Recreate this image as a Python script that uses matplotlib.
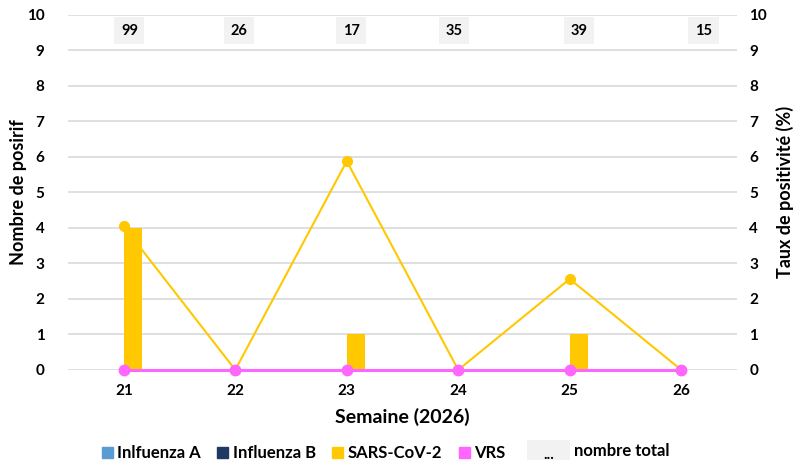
import numpy as np
import matplotlib.pyplot as plt
from matplotlib.patches import Patch, Rectangle
from matplotlib.text import Text
from matplotlib.legend_handler import HandlerPatch

plt.rcParams['font.family'] = ['Lato', 'DejaVu Sans']
plt.rcParams['font.weight'] = 'bold'

semaines = [21, 22, 23, 24, 25, 26]
flu_a = [0, 0, 0, 0, 0, 0]
flu_b = [0, 0, 0, 0, 0, 0]
sars = [4, 0, 1, 0, 1, 0]
vrs = [0, 0, 0, 0, 0, 0]
total = [99, 26, 17, 35, 39, 15]
taux_sars = [4.04, 0, 5.88, 0, 2.56, 0]
taux_vrs = [0, 0, 0, 0, 0, 0]

c_a = '#5B9BD5'
c_b = '#1F3864'
c_sars = '#FFC800'
c_vrs = '#FF66FF'
c_tot = '#F2F2F2'

# small label nudges, as in the original
lab_dx = [0.05, 0.03, 0.04, -0.04, 0.08, 0.2]


class BoxDots(HandlerPatch):
    def create_artists(self, legend, orig_handle, xdescent, ydescent,
                       width, height, fontsize, trans):
        r = Rectangle((-xdescent, -ydescent), width, height,
                      fc=c_tot, ec='none', transform=trans)
        t = Text(-xdescent + width / 2, -ydescent + 1, '...', ha='center',
                 va='baseline', fontsize=fontsize * 0.9, fontweight='bold',
                 transform=trans)
        return [r, t]


fig = plt.figure(figsize=(8.01, 4.67), dpi=100)
ax = fig.add_axes([0.085, 0.208, 0.835, 0.760])
ax2 = ax.twinx()

x = np.array(semaines)
w = 0.16
ax.bar(x - 1.5 * w, flu_a, w, color=c_a, zorder=2)
ax.bar(x - 0.5 * w, flu_b, w, color=c_b, zorder=2)
ax.bar(x + 0.5 * w, sars, w, color=c_sars, zorder=2)
ax.bar(x + 1.5 * w, vrs, w, color=c_vrs, zorder=2)

ax2.plot(x, taux_sars, color=c_sars, lw=1.5, marker='o', ms=7,
         zorder=3, clip_on=False)
ax2.plot(x, taux_vrs, color=c_vrs, lw=2.2, marker='o', ms=7.5,
         zorder=4, clip_on=False)

for xi, t, dx in zip(x, total, lab_dx):
    ax.text(xi + dx, 9.55, str(t), ha='center', va='center', fontsize=10.5,
            fontweight='bold',
            bbox=dict(boxstyle='square,pad=0.45', fc=c_tot, ec='none'))

for a in (ax, ax2):
    a.set_ylim(0, 10)
    a.set_yticks(range(0, 11))
    for s in a.spines.values():
        s.set_visible(False)
    a.tick_params(length=0, labelsize=11)
ax.set_xlim(20.5, 26.5)
ax.set_xticks(semaines)
ax.tick_params(axis='x', pad=10)
ax.tick_params(axis='y', pad=17)
ax2.tick_params(axis='y', pad=9)
ax.yaxis.grid(True, color='#D9D9D9', lw=1.2)
ax.set_axisbelow(True)

ax.set_xlabel('Semaine (2026)', fontsize=14, fontweight='bold', labelpad=7)
ax.set_ylabel('Nombre de posirif', fontsize=13, fontweight='bold', labelpad=0)
ax2.set_ylabel('Taux de positivité (%)', fontsize=13, fontweight='bold',
               labelpad=6)

fs = 12
handles = [Patch(color=c_a), Patch(color=c_b), Patch(color=c_sars),
           Patch(color=c_vrs)]
labels = ['Inlfuenza A', 'Influenza B', 'SARS-CoV-2', 'VRS']
fig.legend(handles, labels, loc='center left',
           bbox_to_anchor=(102 / 801, 1 - 453 / 467), ncol=4, frameon=False,
           fontsize=fs, handlelength=0.66, handleheight=0.66,
           columnspacing=1.0, handletextpad=0.25, borderpad=0,
           borderaxespad=0)
fig.legend([Patch(color=c_tot)], ['nombre total'], loc='center left',
           bbox_to_anchor=(527 / 801, 1 - 450 / 467), frameon=False,
           fontsize=fs, handlelength=2.6, handleheight=1.5,
           handletextpad=0.2, borderpad=0, borderaxespad=0,
           handler_map={Patch: BoxDots()})

fig.savefig('out.png', dpi=100)
